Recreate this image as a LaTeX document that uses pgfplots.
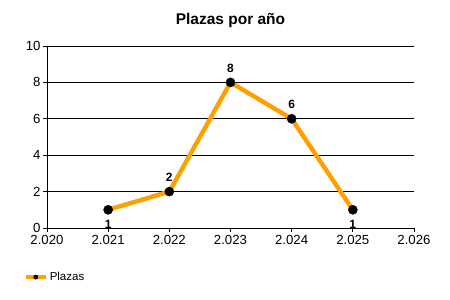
\documentclass[border=0pt]{standalone}
\usepackage{fontspec}
\setmainfont{Liberation Sans}
\usepackage{pgfplots}
\pgfplotsset{compat=1.18}
\definecolor{lineor}{RGB}{255,160,0}
\begin{document}
\begin{tikzpicture}[x=1pt,y=1pt]
\useasboundingbox (0,0) rectangle (450,300);
\begin{axis}[
  at={(47pt,72pt)}, anchor=origin,
  scale only axis, width=367pt, height=182pt,
  xmin=2020, xmax=2026, ymin=0, ymax=10,
  xtick={2020,...,2026},
  xticklabels={2.020,2.021,2.022,2.023,2.024,2.025,2.026},
  ytick={0,2,...,10},
  axis x line*=bottom, axis y line*=left,
  axis line style={black, line width=0.8pt, -},
  ymajorgrids, grid style={black, line width=0.8pt},
  tick style={black, line width=0.8pt},
  tick align=outside, major tick length=4pt,
  ticklabel style={font=\fontsize{13.2}{15}\selectfont},
  /pgf/number format/assume math mode=true,
  yticklabel style={xshift=1pt},
  title={\bfseries Plazas por año},
  title style={font=\fontsize{15.5}{18}\selectfont, at={(0.5,1)}, anchor=south, yshift=9pt},
  legend style={draw=none, fill=none, at={(-0.072,-0.27)}, anchor=west, font=\fontsize{11.5}{13}\selectfont, legend cell align=left},
  legend image code/.code={\path[draw=lineor, line width=4pt] (0pt,0pt) -- (20pt,0pt); \path[fill=black, draw=none] (10pt,0pt) circle (2.4pt);},
  clip=false,
]
\addplot[lineor, line width=4.4pt, mark=*, mark size=4.6pt, mark options={draw=black, fill=black, line width=0.4pt},
  visualization depends on={value \thisrow{pos} \as \lblpos},
  visualization depends on={\thisrow{dy} \as \lbldy},
  nodes near coords,
  every node near coord/.append style={font=\bfseries\fontsize{12}{14}\selectfont, black, anchor=\lblpos, inner sep=0pt, yshift=\lbldy pt},
] table {
x y pos dy
2021 1 north -10.5
2022 2 south 10
2023 8 south 10
2024 6 south 10
2025 1 north -10.5
};
\addlegendentry{Plazas}
\end{axis}
\end{tikzpicture}
\end{document}
